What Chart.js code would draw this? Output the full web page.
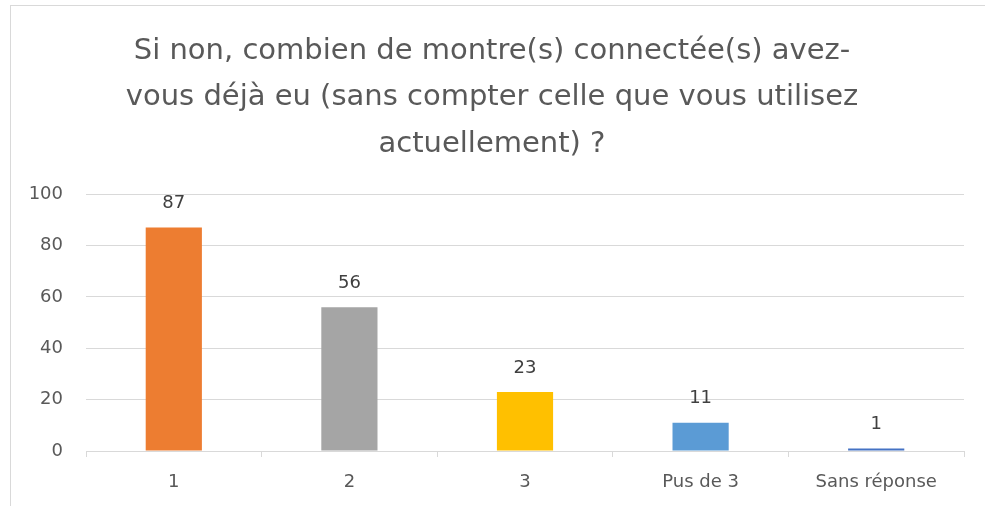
<!DOCTYPE html>
<html><head><meta charset="utf-8">
<script src="https://cdn.jsdelivr.net/npm/chart.js@4/dist/chart.umd.min.js"></script>
<style>
html,body{margin:0;padding:0;background:#fff;width:985px;height:506px;overflow:hidden;}
#frame{position:absolute;left:10px;top:5px;width:990px;height:520px;border:1px solid #d9d9d9;}
#wrap{position:absolute;left:0;top:0;width:985px;height:506px;}
</style></head><body>
<div id="frame"></div>
<div id="wrap"><canvas id="c" width="985" height="506"></canvas></div>
<script>
const titleLines = ["Si non, combien de montre(s) connectée(s) avez-", "vous déjà eu (sans compter celle que vous utilisez", "actuellement) ?"];
const categories = ["1", "2", "3", "Pus de 3", "Sans réponse"];
const values = [87, 56, 23, 11, 1];
const barColors = ["#ED7D31", "#A5A5A5", "#FFC000", "#5B9BD5", "#4472C4"];
const yTicks = [0, 20, 40, 60, 80, 100];

const FONT = "'DejaVu Sans', sans-serif";
const valueLabels = {
  id: 'valueLabels',
  afterDatasetsDraw(chart) {
    const ctx = chart.ctx;
    const meta = chart.getDatasetMeta(0);
    ctx.save();
    ctx.font = "18px " + FONT;
    ctx.fillStyle = "#404040";
    ctx.textAlign = "center";
    ctx.textBaseline = "bottom";
    meta.data.forEach((bar, i) => {
      ctx.fillText(String(chart.data.datasets[0].data[i]), bar.x, bar.y - 15);
    });
    ctx.restore();
  }
};

new Chart(document.getElementById('c'), {
  type: 'bar',
  data: {
    labels: categories,
    datasets: [{ data: values, backgroundColor: barColors, borderWidth: 0,
      categoryPercentage: 1, barPercentage: 0.32 }]
  },
  options: {
    responsive: false,
    animation: false,
    devicePixelRatio: 1,
    layout: { padding: { left: 20, right: 21, top: 0, bottom: 0 } },
    plugins: {
      legend: { display: false },
      tooltip: { enabled: false },
      title: {
        display: true, text: titleLines, color: "#595959",
        font: { family: FONT, size: 29, weight: 'normal', lineHeight: 1.6 },
        padding: { top: 28, bottom: 27 }
      }
    },
    scales: {
      x: {
        grid: { display: true, drawOnChartArea: false, drawTicks: true, tickLength: 6, color: "#d9d9d9", offset: true },
        border: { display: true, color: "#d9d9d9", width: 1 },
        ticks: { color: "#595959", font: { family: FONT, size: 18 }, padding: 15, maxRotation: 0 },
        afterFit(s) { s.height = 55; }
      },
      y: {
        min: 0, max: 100,
        afterBuildTicks(s) { s.ticks = yTicks.map(v => ({ value: v })); },
        grid: { color: "#d9d9d9", drawTicks: false, lineWidth: 1 },
        border: { display: false },
        ticks: { color: "#595959", font: { family: FONT, size: 18 }, padding: 23 },
        afterFit(s) { s.width = 66; }
      }
    }
  },
  plugins: [valueLabels]
});
</script>
</body></html>
